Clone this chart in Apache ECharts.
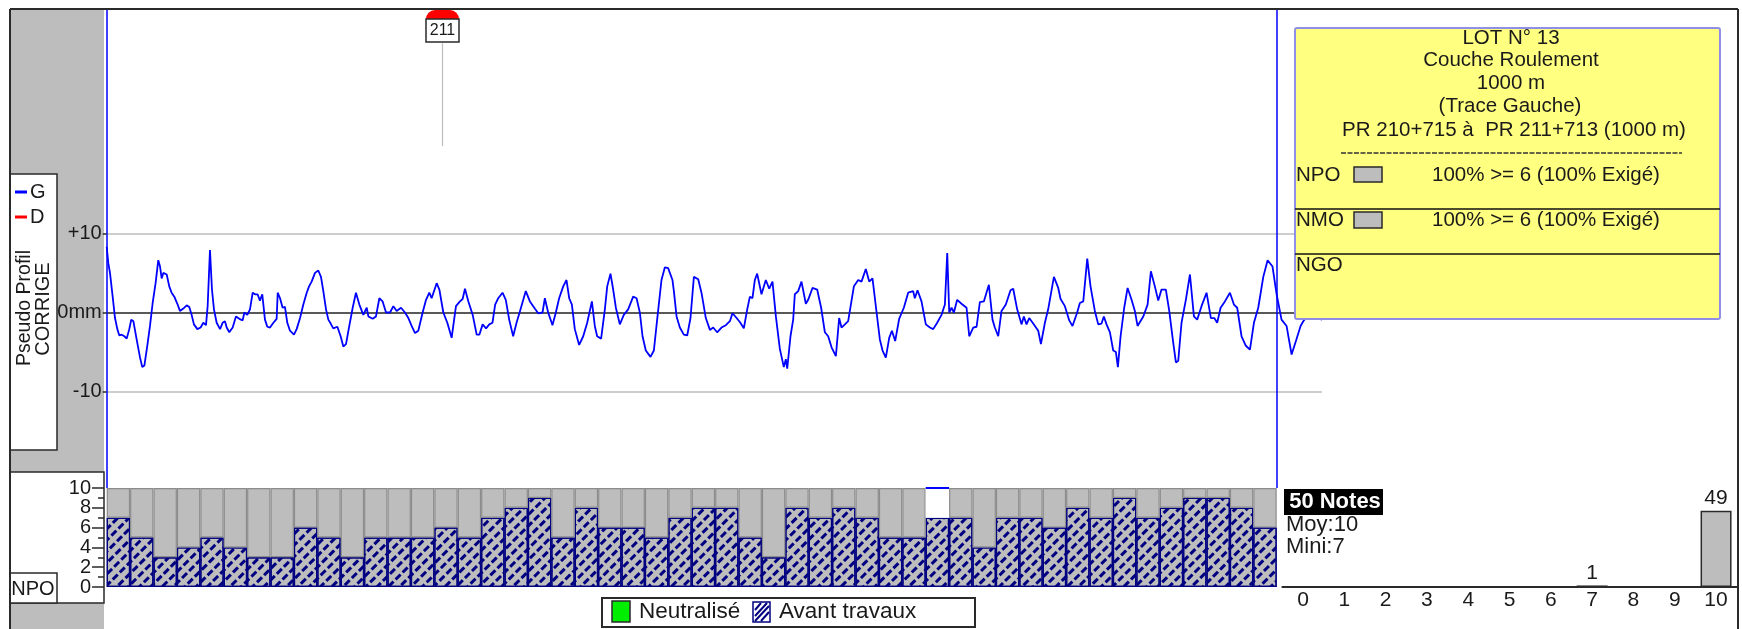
<!DOCTYPE html>
<html><head><meta charset="utf-8">
<style>html,body{margin:0;padding:0;background:#fff}#c{width:1742px;height:629px}</style>
<script src="https://cdn.jsdelivr.net/npm/echarts@6/dist/echarts.min.js"></script>
</head><body><div id="c"></div>
<script>
// Distance along the lot (m) and pseudo-profile, left trace G (mm)
const distanceM = [0,1.4,2.8,5.1,7.1,9.1,10.8,12.8,15.1,17.1,19.3,21,22.8,25.6,28.5,30.4,32.2,34.7,37,39.3,41.8,44.1,45.6,47,48.4,51.3,53.5,55.5,57.8,60.4,62.6,65.5,68.4,70.6,72.6,74.6,77.5,80.3,82.6,84.9,86.3,88.3,90,91.7,94,96.9,99.1,101.1,102.6,104.8,107.7,110.5,113.4,116.2,117.7,120.2,122.5,124.8,126.8,129,131,133,135.3,137.3,139.6,142.5,145.3,146.2,148.2,150.4,152.4,154.4,156.7,160.1,162.4,165.3,168.1,171,173,175.2,178.1,180.9,183.2,185.2,187.5,189.5,191.5,193.7,197.2,200,202.3,204.6,207.4,210.3,213.1,216,219.4,222.3,223.7,227.4,230.2,233.1,235.9,238.8,242.2,245.1,247.9,251.6,255,257.9,260.7,263.6,266.4,270.1,273,275.8,277.8,282.1,284.4,287.8,291.2,294.9,298.6,302,304.3,306.3,309.2,312.9,316.3,318.6,321.4,324.3,327.1,329.8,332.1,334.7,338.4,341.2,344.1,347.5,350.4,353.8,358.3,361.8,366,368.9,372.6,374.6,377.4,381.1,384,386.8,390.3,393.1,395.4,397.7,400.2,403.9,407.4,410.8,414.8,417.3,419.3,422.7,425.9,427.9,430.7,433,435.3,438.7,442.1,445.8,450.1,453,455.8,458.1,460.9,464.9,467.8,470.6,474.3,477.2,480,483.7,484.9,487.2,490,493.4,496.3,499.1,502,505.7,508.5,512.2,515.7,518.5,521.9,525.6,529.3,532.8,535,538.5,541.3,544.7,547.6,549.9,552.1,554.1,556.1,559.8,563.5,566.4,569.2,572.1,575.5,578.9,580.6,581.8,584.6,586.9,588.3,591.2,594,597.7,599.7,603.4,607.4,610.8,614,616.8,619.7,623.4,626.2,628.2,631.1,633.9,638.8,642.5,645.3,649,651.9,654.7,658.2,661,663.3,666.1,669,671.3,674.1,677.5,681.5,685.2,689.5,690.9,693.2,696.6,700.3,703.8,706.6,710,713.7,716.6,718.6,720.3,722.3,724.3,727.1,730.8,735.1,737.4,740.8,743.7,746.5,749.9,754.2,757.3,759.3,762.2,765,768.7,772.7,775,778.4,782.1,784.1,786.4,788.7,792.1,796.4,798.7,802.1,804.9,809.8,813.5,815.5,819.2,822.9,825.7,829.7,832,834.9,838.3,841.1,844.8,847.7,850.5,852.5,854.8,857.7,860.5,862.8,864.5,866.8,869.9,872.8,876.2,879,881.3,886.2,889.9,892.7,896.1,899,901.8,905.5,908.4,911.8,914.1,916.1,918.9,922.6,926.1,929.5,932.3,936,937.5,940.3,944,946.9,949.4,952.3,956,960.3,963.7,966.5,970.2,973.9,977.4,980.8,984.5,988.8,992.5,996.7,1000.2,1004.4,1008.7,1013,1016.7,1020.7,1023,1027.2,1039];
const profileG = [8.3,6.2,5,2,-0.7,-2.1,-2.9,-2.8,-3,-3.3,-2.1,-0.9,-1.1,-3.4,-5.7,-6.9,-6.7,-4.2,-1.7,1.2,3.7,6.6,5.8,4.3,5,4.8,3.3,2.5,2,1.1,0.2,0.5,0.9,0.7,-0.3,-1.5,-2.1,-1.9,-1.3,-1.6,0.8,7.9,2.9,0.4,-1.3,-2.1,-1.3,-1.1,-1.9,-2.5,-1.9,-0.5,-0.8,-1,0,-0.3,0.4,2.5,2.3,2.3,1.5,2.3,-0.9,-1.8,-1.9,-1.3,-0.8,2.5,1.8,0.6,0.7,-1.3,-2.3,-2.8,-2.1,-0.7,1,2.5,3.3,3.9,5,5.3,4.5,2.7,0.4,-0.9,-1.4,-2,-1.8,-3,-4.3,-4,-1.7,0.6,2.5,1,-0.3,0.6,-0.5,-0.8,-0.5,1.8,1.4,0,0,0.8,0.2,0.6,0,-0.7,-1.7,-2.6,-2.3,0,1.6,2.5,1.8,3.7,2.9,0,-1.3,-3.2,0.8,1.4,1.7,3,1.4,-0.3,-2.8,-2.8,-1.5,-2,-1.5,-1.3,1,1.8,2.5,1.6,-0.9,-3,-1.3,0.4,2.7,1.4,0.5,-0.1,0,1.8,0,-1.6,0,1.8,3.3,4.1,1.8,1,-2.1,-4.1,-3,-1.3,1.4,-1.7,-3,-3.3,0.4,3.3,4.9,2.9,0.6,-1.5,-0.3,0.4,2,1.8,0,-3,-4.8,-5.6,-4.8,-0.9,4.1,5.7,5.6,4.1,2.7,-0.5,-1.9,-2.8,-2.9,-0.7,4.5,4.2,2.5,-0.7,-2.2,-1.9,-2.5,-1.9,-1.6,-1.1,-0.1,-0.7,-1.2,-2,0.4,2,1.8,4.1,4.9,2.3,4.1,3,3.9,-0.5,-4.6,-6.9,-5.9,-7.1,-3,-0.9,2.3,2.7,3.9,1.1,1.6,3.1,2.9,0.6,-2.5,-3,-4.4,-5.5,-0.7,-1.9,-1.5,-1.1,3.3,4.1,3.9,5.5,3.9,4.3,0,-3.4,-4.8,-5.7,-3.2,-2.3,-3.6,-0.8,0.6,2.5,2.7,1.8,2.8,1.4,-1.5,-1.9,-2.1,-1.3,-0.3,1,7.5,0,0.6,0,1.6,1.1,0.6,-3,-1.9,-1.8,1.3,1.4,3.5,-0.9,-1.9,-3,0.2,1,2.8,3,0.4,-1.5,-0.5,-1.5,-0.7,-1.4,-2.3,-4,-1.3,0.4,4.5,3.1,1.7,0.8,-1,-1.7,0,1.2,1.4,6.8,3.3,0.2,-1.5,-1.4,-0.5,-1.5,-2.5,-4.8,-5,-6.9,-3,0.6,3.1,1.6,0.2,-1.7,-0.5,1,5.2,3.3,1.5,2.9,2.9,0.2,-3.8,-6.3,-6.1,-1.3,1.6,4.8,-0.5,-0.9,0.8,1,2.5,-0.7,-0.7,-1.3,0.6,1.4,2.5,1,0.6,-3,-4.2,-4.7,-1.3,0.6,4.5,6.6,5.8,2.3,-0.9,-1.7,-5.3,-3.6,-1.7,-1.1,-0.3,-0.9];
// NPO note per 20 m block (hatched = avant travaux)
const noteNPO = [7,5,3,4,5,4,3,3,6,5,3,5,5,5,6,5,7,8,9,5,8,6,6,5,7,8,8,5,3,8,7,8,7,5,5,7,7,4,7,7,6,8,7,9,7,8,9,9,8,6];
const blockNoFill = 35;
// Histogram of notes
const noteClasses = ['0','1','2','3','4','5','6','7','8','9','10'];
const noteCounts = [0,0,0,0,0,0,0,1,0,0,49];
const lotStart = 0, lotEnd = 1000, prMarker = 287;
const infoLines = ['LOT N° 13','Couche Roulement','1000 m','(Trace Gauche)','PR 210+715 à  PR 211+713 (1000 m)'];

const FONT = '"Liberation Sans", Arial, sans-serif';
const DARK = '#2a2a2a';
const chart = echarts.init(document.getElementById('c'), null, {renderer:'canvas'});
const Z = 100;
const zOf = z => z===undefined?Z:z;
const rect = (x,y,w,h,fill,stroke,lw,z,r) => ({type:'rect',silent:true,z:zOf(z),shape:{x,y,width:w,height:h,r:r||0},style:{fill:fill||'transparent',stroke:stroke||null,lineWidth:lw||1}});
const line = (x1,y1,x2,y2,c,lw,z,dash) => ({type:'line',silent:true,z:zOf(z),shape:{x1,y1,x2,y2},style:{stroke:c||DARK,lineWidth:lw||1.5,lineDash:dash||null}});
const text = (s,x,y,size,al,fill,extra,weight) => Object.assign({type:'text',silent:true,z:Z+2,x,y,style:{text:s,font:(weight?weight+' ':'')+(size||19)+'px '+FONT,fill:fill||'#1a1a1a',textAlign:al||'left',textVerticalAlign:'middle'}},extra||{});

const gfx = [
  // left grey strip and frame
  rect(10,9,94,620,'#bdbdbd',null,0,0),
  line(10,9,1738,9,DARK,2), line(10,9,10,629,DARK,2), line(1738,9,1738,629,DARK,2),
  // trace legend
  rect(10,174,47,276,'#fff',DARK,1.5,1),
  line(15,192,27,192,'#0000ff',3), text('G',30,192,20),
  line(15,217,27,217,'#ff0000',3), text('D',30,217,20),
  text('Pseudo Profil',25,308,19.5,'center','#1a1a1a',{rotation:Math.PI/2}),
  text('CORRIGE',43,309,20,'center','#1a1a1a',{rotation:Math.PI/2}),
  // NPO panel
  rect(10,472,94,131,'#fff',DARK,1.5,1),
  rect(10,573,47,30,'#fff',DARK,1.5,2),
  text('NPO',33,589,20,'center'),
  // PR marker
  {type:'rect',silent:true,z:Z,shape:{x:426,y:10,width:33,height:10,r:[9,9,0,0]},style:{fill:'#ff0000'}},
  rect(426,19,33,23,'#fff',DARK,1.5),
  text('211',442.5,30.5,16,'center'),
  // info box
  rect(1295,28,425,291,'#ffff80','#8f8fe8',2,Z,2),
  line(1295,209,1720,209,'#111',1.5,Z+1), line(1295,254,1720,254,'#111',1.5,Z+1),
  text(infoLines[0],1511,38,20.5,'center'),
  text(infoLines[1],1511,60.5,20.5,'center'),
  text(infoLines[2],1511,83,20.5,'center'),
  text(infoLines[3],1510,106,20.5,'center'),
  text(infoLines[4],1514,130,20.5,'center'),
  line(1341,153,1682,153,'#333',1.5,Z+1,[5,1.5]),
  text('NPO',1296,175,20.5), rect(1354,167,28,15,'#bdbdbd',DARK,1.5,Z+1), text('100% >= 6 (100% Exigé)',1432,175,20.5),
  text('NMO',1296,220,20.5), rect(1354,212,28,16,'#bdbdbd',DARK,1.5,Z+1), text('100% >= 6 (100% Exigé)',1432,220,20.5),
  text('NGO',1296,265,20.5),
  // note summary
  rect(1284,489,99,26,'#000'),
  text('50 Notes',1335,502,22,'center','#fff',{},'bold'),
  text('Moy:10',1286,525,22), text('Mini:7',1286,547,22),
  // bottom legend
  rect(602,598,373,29,'#fff',DARK,2),
  rect(612,601,18,21,'#00ee00',DARK,1.5),
  text('Neutralisé',639,612,22.5),
  rect(753,602,17,20,'#fff','#000080',1.5)
];
// diagonal hatch of the legend swatch
[[755,610,761,603],[755,616,767,603],[755,621,769,606],[761,621,769,612]].forEach(p=>gfx.push(line(p[0],p[1],p[2],p[3],'#000080',2,Z+1)));
gfx.push(text('Avant travaux',779,612,22.5));

const profileData = distanceM.map((d,i)=>[d,profileG[i]]);
const hatch = {color:'#000080',symbol:'rect',symbolSize:1,dashArrayX:[[7,3]],dashArrayY:[2.2,5],rotation:-Math.PI/4,maxTileWidth:256,maxTileHeight:256};
const axisText = {color:'#1a1a1a',fontFamily:FONT,fontSize:20};

chart.setOption({
  animation:false,
  backgroundColor:'#fff',
  textStyle:{fontFamily:FONT},
  grid:[
    {left:106.7,top:9,width:1215.3,height:479},
    {left:106.7,top:488,width:1170,height:99},
    {left:1282.4,top:510.7,width:454.3,height:76.3}
  ],
  xAxis:[
    {gridIndex:0,type:'value',min:0,max:1039,show:false,splitLine:{show:false}},
    {gridIndex:1,type:'category',data:noteNPO.map((_,i)=>i+1),show:false},
    {gridIndex:2,type:'category',data:noteClasses,z:10,
      axisLine:{lineStyle:{color:DARK,width:2}},
      axisTick:{alignWithLabel:true,length:6,lineStyle:{color:DARK,width:1.5}},
      axisLabel:Object.assign({},axisText,{fontSize:21,margin:3,interval:0})}
  ],
  yAxis:[
    {gridIndex:0,type:'value',min:-22.16,max:38.32,z:50,splitLine:{show:false},axisLine:{show:false},
      axisTick:{show:true,length:4,customValues:[-10,0,10],lineStyle:{color:DARK,width:1.5}},
      axisLabel:Object.assign({},axisText,{customValues:[-10,0,10],margin:5,fontSize:20,formatter:v=>v>0?'+'+v:(v===0?'0mm':''+v)})},
    {gridIndex:1,type:'value',min:0,max:10,interval:1,position:'left',offset:2.7,z:50,splitLine:{show:false},
      axisLine:{show:false},
      axisTick:{show:true,length:6,lineStyle:{color:DARK,width:1.5}},
      axisLabel:Object.assign({},axisText,{margin:13,formatter:v=>v%2===0?''+v:''})},
    {gridIndex:2,type:'value',min:0,max:49,show:false,splitLine:{show:false}},
    // longer ticks at the labelled notes
    {gridIndex:1,type:'value',min:0,max:10,interval:2,position:'left',offset:2.7,z:50,splitLine:{show:false},
      axisLine:{show:false},
      axisTick:{show:true,length:12,lineStyle:{color:DARK,width:1.5}},
      axisLabel:{show:false}}
  ],
  series:[
    {name:'G',type:'line',xAxisIndex:0,yAxisIndex:0,data:profileData,showSymbol:false,smooth:false,z:5,
      lineStyle:{color:'#0000ff',width:1.8},itemStyle:{color:'#0000ff'},
      markLine:{silent:true,symbol:'none',label:{show:false},animation:false,data:[
        {yAxis:10,lineStyle:{color:'#bcbcbc',width:1.5,type:'solid'}},
        {yAxis:-10,lineStyle:{color:'#bcbcbc',width:1.5,type:'solid'}},
        {yAxis:0,lineStyle:{color:'#222',width:1.5,type:'solid'}},
        {xAxis:lotStart,lineStyle:{color:'#0000ff',width:1.5,type:'solid'}},
        {xAxis:lotEnd,lineStyle:{color:'#0000ff',width:1.5,type:'solid'}},
        [{coord:[prMarker,21]},{coord:[prMarker,34],lineStyle:{color:'#bcbcbc',width:1.2,type:'solid'}}]
      ]}},
    {name:'Avant travaux',type:'bar',xAxisIndex:1,yAxisIndex:1,stack:'n',barWidth:'100%',data:noteNPO,
      itemStyle:{color:'#bdbdbd',borderColor:'#000080',borderWidth:1.2,decal:hatch}},
    {name:'Reste',type:'bar',xAxisIndex:1,yAxisIndex:1,stack:'n',barWidth:'100%',
      data:noteNPO.map((v,i)=>i===blockNoFill?{value:10-v,itemStyle:{color:'#fff',borderColor:'#fff'}}:10-v),
      itemStyle:{color:'#bdbdbd',borderColor:'#8c8c8c',borderWidth:1.2}},
    {name:'Notes',type:'bar',xAxisIndex:2,yAxisIndex:2,barWidth:31,data:noteCounts.map(v=>v||null),
      itemStyle:{color:'#bdbdbd',borderColor:DARK,borderWidth:1.5},
      label:{show:true,position:'top',distance:2,color:'#1a1a1a',fontFamily:FONT,fontSize:21}}
  ],
  graphic:{elements:gfx}
});
// blue top edge of the block with no fill: placed from the bar axis scale
const bx0 = chart.convertToPixel({xAxisIndex:1},blockNoFill), bw = chart.convertToPixel({xAxisIndex:1},blockNoFill+1)-bx0, by = chart.convertToPixel({yAxisIndex:1},10);
chart.setOption({graphic:{elements:[Object.assign({id:'blueEdge'},line(bx0-bw/2,by,bx0+bw/2,by,'#0000ff',2))]}});
</script></body></html>
